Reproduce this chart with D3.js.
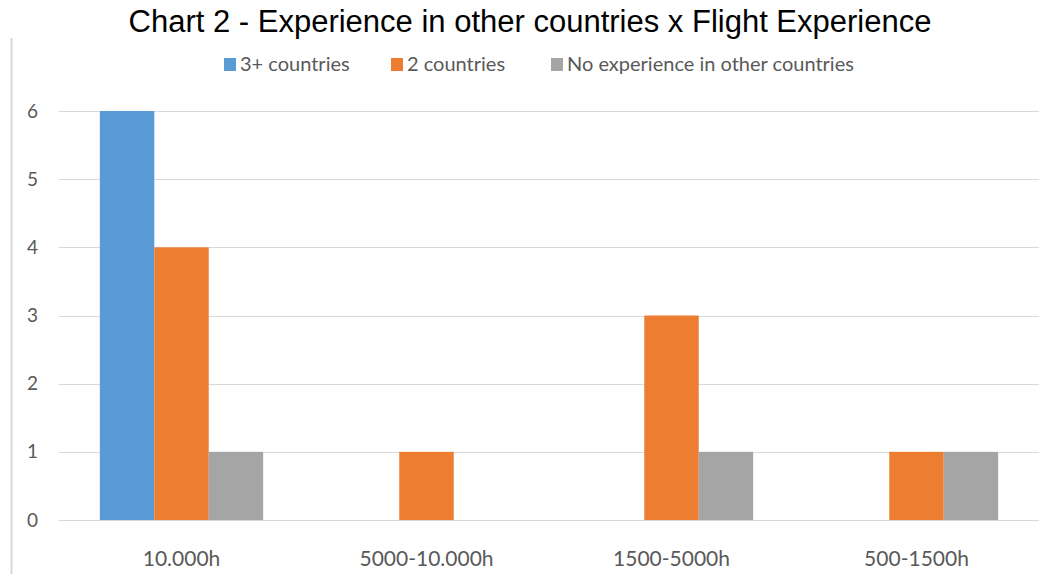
<!DOCTYPE html>
<html>
<head>
<meta charset="utf-8">
<script src="https://cdn.jsdelivr.net/npm/d3@7"></script>
<style>
  html, body { margin: 0; padding: 0; background: #fff; }
  svg { display: block; }
</style>
</head>
<body>
<svg id="chart" width="1059" height="574"></svg>
<script>
// Flight-experience bands on the x axis
const categories = ["10.000h", "5000-10.000h", "1500-5000h", "500-1500h"];
// Series: number of pilots per band
const seriesNames = ["3+ countries", "2 countries", "No experience in other countries"];
const threePlus = [6, 0, 0, 0];
const twoCountries = [4, 1, 3, 1];
const noExperience = [1, 0, 1, 1];
const yTicks = [0, 1, 2, 3, 4, 5, 6];
const colors = ["#5B9BD5", "#ED7D31", "#A5A5A5"];

const seriesValues = [threePlus, twoCountries, noExperience];
const rows = categories.map((c, i) => ({
  category: c,
  values: seriesNames.map((s, j) => ({ series: s, value: seriesValues[j][i], color: colors[j] }))
}));

const svg = d3.select("#chart");
const W = 1059, H = 574;
const margin = { left: 59, right: 20, top: 111, bottom: 54 };
const labelFont = "Lato, Carlito, sans-serif";

const x0 = d3.scaleBand()
  .domain(categories)
  .range([margin.left, W - margin.right])
  .paddingInner(1 / 3)
  .paddingOuter(1 / 6);

const x1 = d3.scaleBand()
  .domain(seriesNames)
  .range([0, x0.bandwidth()]);

const y = d3.scaleLinear()
  .domain([0, 6])
  .range([H - margin.bottom, margin.top]);

// Frame line at the left edge
svg.append("line")
  .attr("x1", 11.5).attr("x2", 11.5)
  .attr("y1", 38).attr("y2", H)
  .attr("stroke", "#D9D9D9").attr("stroke-width", 2);

// Title
svg.append("text")
  .attr("x", 530).attr("y", 32)
  .attr("text-anchor", "middle")
  .attr("font-family", "Liberation Sans, Arial, sans-serif")
  .attr("font-size", 31)
  .attr("fill", "#000")
  .text("Chart 2 - Experience in other countries x Flight Experience");

// Gridlines
svg.append("g")
  .selectAll("line")
  .data(yTicks)
  .join("line")
  .attr("x1", margin.left).attr("x2", W - margin.right)
  .attr("y1", d => Math.round(y(d)) + 0.5).attr("y2", d => Math.round(y(d)) + 0.5)
  .attr("stroke", "#D9D9D9").attr("stroke-width", 1);

// Y axis labels
const yAxis = d3.axisLeft(y).tickValues(yTicks).tickSize(0).tickPadding(0).tickFormat(d3.format("d"));
const gy = svg.append("g").attr("transform", "translate(38,0)").call(yAxis);
gy.select(".domain").remove();
gy.selectAll("text")
  .attr("font-family", labelFont)
  .attr("font-size", 19)
  .attr("fill", "#595959");

// Bars
const groups = svg.append("g")
  .selectAll("g")
  .data(rows)
  .join("g")
  .attr("transform", d => `translate(${x0(d.category)},0)`);

groups.selectAll("rect")
  .data(d => d.values.filter(v => v.value > 0))
  .join("rect")
  .attr("x", d => x1(d.series))
  .attr("width", x1.bandwidth())
  .attr("y", d => y(d.value))
  .attr("height", d => y(0) - y(d.value))
  .attr("fill", d => d.color);

// X axis labels
const xAxis = d3.axisBottom(x0).tickSize(0).tickPadding(0);
const gx = svg.append("g").attr("transform", `translate(0,${H - margin.bottom})`).call(xAxis);
gx.select(".domain").remove();
gx.selectAll("text")
  .attr("y", 46)
  .attr("dy", null)
  .attr("font-family", labelFont)
  .attr("font-size", 21)
  .attr("fill", "#595959");

// Legend
const legendX = [224, 391, 551];
const legend = svg.append("g")
  .selectAll("g")
  .data(seriesNames)
  .join("g")
  .attr("transform", (d, i) => `translate(${legendX[i]},58)`);
legend.append("rect")
  .attr("width", 12).attr("height", 13)
  .attr("fill", (d, i) => colors[i]);
legend.append("text")
  .attr("x", 16).attr("y", 12.5)
  .attr("font-family", labelFont)
  .attr("font-size", 20)
  .attr("fill", "#595959")
  .text(d => d);
</script>
</body>
</html>
